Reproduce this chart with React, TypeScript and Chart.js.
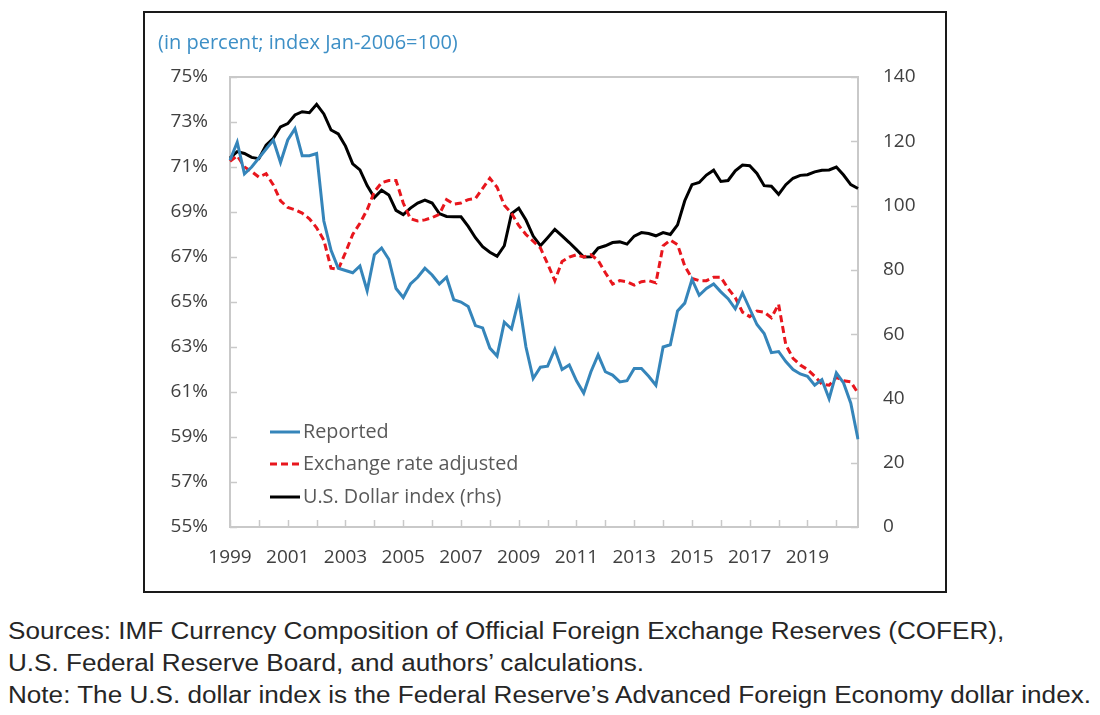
import React, { useEffect, useRef } from "react";
import { Chart, registerables } from "chart.js";

Chart.register(...registerables);

const years: number[] = [];
for (let y = 1999; y <= 2020; y++) years.push(y);
const quarterLabels: string[] = [];
years.forEach((y) => ["Q1", "Q2", "Q3", "Q4"].forEach((q) => quarterLabels.push(`${y}${q}`)));

const reported = [
  71.3, 72.1, 70.7, 71.0, 71.4, 71.8, 72.2, 71.2, 72.2, 72.7,
  71.5, 71.5, 71.6, 68.6, 67.3, 66.5, 66.4, 66.3, 66.6, 65.5,
  67.1, 67.4, 66.9, 65.6, 65.2, 65.8, 66.1, 66.5, 66.2, 65.8,
  66.1, 65.1, 65.0, 64.8, 63.95, 63.85, 62.95, 62.6, 64.1, 63.8,
  65.1, 63.0, 61.6, 62.1, 62.15, 62.9, 62.0, 62.2, 61.5, 60.95,
  61.9, 62.65, 61.9, 61.75, 61.45, 61.5, 62.05, 62.05, 61.7, 61.3,
  63.0, 63.1, 64.6, 64.95, 66.0, 65.3, 65.6, 65.8, 65.45, 65.15,
  64.7, 65.4, 64.7, 64.0, 63.6, 62.75, 62.8, 62.35, 62.0, 61.8,
  61.7, 61.3, 61.55, 60.7, 61.85, 61.4, 60.5, 58.9,
];

const fxAdjusted = [
  71.25, 71.5, 71.0, 70.8, 70.55, 70.7, 70.2, 69.5, 69.2, 69.1,
  68.95, 68.7, 68.3, 67.75, 66.5, 66.45, 67.2, 68.0, 68.5, 69.1,
  69.9, 70.3, 70.4, 70.4, 69.4, 68.7, 68.6, 68.65, 68.75, 68.9,
  69.55, 69.35, 69.4, 69.55, 69.6, 70.05, 70.5, 70.1, 69.3, 68.95,
  68.4, 68.0, 67.7, 67.4, 66.7, 65.95, 66.8, 67.0, 67.1, 67.0,
  67.1, 66.85, 66.3, 65.8, 65.95, 65.9, 65.75, 65.9, 65.95, 65.85,
  67.5, 67.75, 67.55, 66.6, 66.05, 65.95, 65.95, 66.1, 66.1, 65.6,
  65.2, 64.55, 64.35, 64.6, 64.55, 64.3, 64.9, 63.1, 62.5, 62.2,
  62.0, 61.7, 61.35, 61.3, 61.65, 61.5, 61.45, 60.95,
];

const dollarIndex = [
  114.8, 116.8, 116.2, 115.0, 114.6, 118.8, 120.9, 124.5, 125.5, 128.2,
  129.2, 128.9, 131.5, 128.5, 123.5, 122.3, 118.5, 113.0, 111.1, 106.2,
  102.5, 104.8, 103.3, 98.5, 97.2, 99.2, 100.8, 101.7, 100.8, 97.5,
  96.6, 96.5, 96.5, 93.5, 90.0, 87.2, 85.5, 84.2, 87.5, 97.5,
  99.2, 95.5, 90.5, 87.5, 90.0, 92.6, 90.6, 88.5, 86.3, 84.0,
  84.1, 86.8, 87.5, 88.5, 88.7, 88.0, 90.5, 91.6, 91.3, 90.6,
  91.6, 91.0, 94.0, 101.5, 106.5, 107.2, 109.5, 111.0, 107.5, 107.8,
  110.8, 112.6, 112.4, 110.0, 106.2, 106.0, 103.5, 106.5, 108.5, 109.4,
  109.6, 110.5, 111.0, 111.1, 112.0, 109.5, 106.5, 105.3,
];

const seriesNames = ["Reported", "Exchange rate adjusted", "U.S. Dollar index (rhs)"];
const titleText = "(in percent; index Jan-2006=100)";
const footerLines = [
  "Sources: IMF Currency Composition of Official Foreign Exchange Reserves (COFER),",
  "U.S. Federal Reserve Board, and authors\u2019 calculations.",
  "Note: The U.S. dollar index is the Federal Reserve\u2019s Advanced Foreign Economy dollar index.",
];

const BLUE = "#3585ba";
const RED = "#e8161d";
const BLACK = "#000000";
const AXIS = "#c9c9c9";
const TEXT = "#404040";
const FONT = "'Open Sans', 'DejaVu Sans', sans-serif";

const frameAndTicks = {
  id: "frameAndTicks",
  beforeDatasetsDraw(chart: any) {
    const { ctx, chartArea } = chart;
    const { left, right, top, bottom } = chartArea;
    ctx.save();
    ctx.strokeStyle = AXIS;
    ctx.lineWidth = 2;
    ctx.strokeRect(left, top, right - left, bottom - top);
    ctx.lineWidth = 1.5;
    const yL = chart.scales.y;
    yL.ticks.forEach((t: any) => {
      const py = Math.round(yL.getPixelForValue(t.value)) + 0.5;
      ctx.beginPath();
      ctx.moveTo(left, py);
      ctx.lineTo(left + 7, py);
      ctx.stroke();
    });
    const yR = chart.scales.y1;
    yR.ticks.forEach((t: any) => {
      const py = Math.round(yR.getPixelForValue(t.value)) + 0.5;
      ctx.beginPath();
      ctx.moveTo(right - 7, py);
      ctx.lineTo(right, py);
      ctx.stroke();
    });
    const xs = chart.scales.x;
    for (let i = 0; i < quarterLabels.length; i += 4) {
      const px = Math.round(xs.getPixelForValue(i)) + 0.5;
      ctx.beginPath();
      ctx.moveTo(px, bottom);
      ctx.lineTo(px, bottom - 7);
      ctx.stroke();
    }
    ctx.restore();
  },
  afterDatasetsDraw(chart: any) {
    const { ctx, chartArea } = chart;
    ctx.save();
    const x0 = chartArea.left + 40;
    const x1 = chartArea.left + 70;
    const rows = [chartArea.top + 355, chartArea.top + 387, chartArea.top + 420];
    chart.data.datasets.forEach((ds: any, i: number) => {
      const y = rows[i];
      ctx.strokeStyle = ds.borderColor;
      ctx.lineWidth = 3;
      ctx.setLineDash(ds.borderDash || []);
      ctx.beginPath();
      ctx.moveTo(x0, y);
      ctx.lineTo(x1, y);
      ctx.stroke();
      ctx.setLineDash([]);
      ctx.fillStyle = "#595959";
      ctx.font = `19.8px ${FONT}`;
      ctx.textBaseline = "middle";
      ctx.textAlign = "left";
      ctx.fillText(ds.label, x1 + 3, y);
    });
    ctx.restore();
  },
};

export default function App() {
  const canvasRef = useRef<HTMLCanvasElement | null>(null);

  useEffect(() => {
    if (!canvasRef.current) return;
    const chart = new Chart(canvasRef.current, {
      type: "line",
      data: {
        labels: quarterLabels,
        datasets: [
          {
            label: seriesNames[0],
            data: reported,
            borderColor: BLUE,
            borderWidth: 3,
            pointRadius: 0,
            tension: 0,
            yAxisID: "y",
          },
          {
            label: seriesNames[1],
            data: fxAdjusted,
            borderColor: RED,
            borderWidth: 3,
            borderDash: [7, 4],
            pointRadius: 0,
            tension: 0,
            yAxisID: "y",
          },
          {
            label: seriesNames[2],
            data: dollarIndex,
            borderColor: BLACK,
            borderWidth: 3,
            pointRadius: 0,
            tension: 0,
            yAxisID: "y1",
          },
        ],
      },
      options: {
        animation: false,
        responsive: false,
        maintainAspectRatio: false,
        events: [],
        layout: { padding: { top: 64, left: 0, right: 0, bottom: 0 } },
        plugins: {
          legend: { display: false },
          title: { display: false },
          tooltip: { enabled: false },
        },
        scales: {
          x: {
            type: "category",
            offset: false,
            grid: { display: false, drawTicks: false },
            border: { display: false },
            ticks: {
              autoSkip: false,
              maxRotation: 0,
              minRotation: 0,
              padding: 19,
              color: TEXT,
              font: { family: FONT, size: 19 },
              callback: (_v: any, i: number) =>
                i % 8 === 0 ? quarterLabels[i].slice(0, 4) : null,
            },
            afterFit: (s: any) => {
              s.height = 64;
            },
          },
          y: {
            position: "left",
            min: 55,
            max: 75,
            grid: { display: false, drawTicks: false },
            border: { display: false },
            ticks: {
              stepSize: 2,
              padding: 22,
              color: TEXT,
              font: { family: FONT, size: 19 },
              callback: (v: any) => `${v}%`,
            },
            afterFit: (s: any) => {
              s.width = 85;
            },
          },
          y1: {
            position: "right",
            min: 0,
            max: 140,
            grid: { display: false, drawTicks: false },
            border: { display: false },
            ticks: {
              stepSize: 20,
              padding: 25,
              color: TEXT,
              font: { family: FONT, size: 19 },
            },
            afterFit: (s: any) => {
              s.width = 87;
            },
          },
        },
      },
      plugins: [frameAndTicks],
    });
    return () => chart.destroy();
  }, []);

  return (
    <div style={{ position: "absolute", left: 0, top: 0, width: 1100, height: 715, background: "#fff" }}>
      <div
        style={{
          position: "absolute",
          left: 143,
          top: 11,
          width: 800,
          height: 578,
          border: "2px solid #1a1a1a",
        }}
      >
        <canvas ref={canvasRef} width={800} height={578} style={{ display: "block", width: 800, height: 578 }} />
        <div
          style={{
            position: "absolute",
            left: 13,
            top: 16,
            fontFamily: FONT,
            fontSize: 20,
            color: "#3d8fc6",
            whiteSpace: "nowrap",
            lineHeight: "26px",
          }}
        >
          {titleText}
        </div>
      </div>
      <div
        style={{
          position: "absolute",
          left: 8,
          top: 615,
          fontFamily: "'Liberation Sans', Arial, sans-serif",
          fontSize: 23,
          lineHeight: "32px",
          color: "#262626",
          whiteSpace: "nowrap",
          transform: "scaleX(1.135)",
          transformOrigin: "left top",
        }}
      >
        {footerLines.map((l, i) => (
          <div key={i}>{l}</div>
        ))}
      </div>
    </div>
  );
}
